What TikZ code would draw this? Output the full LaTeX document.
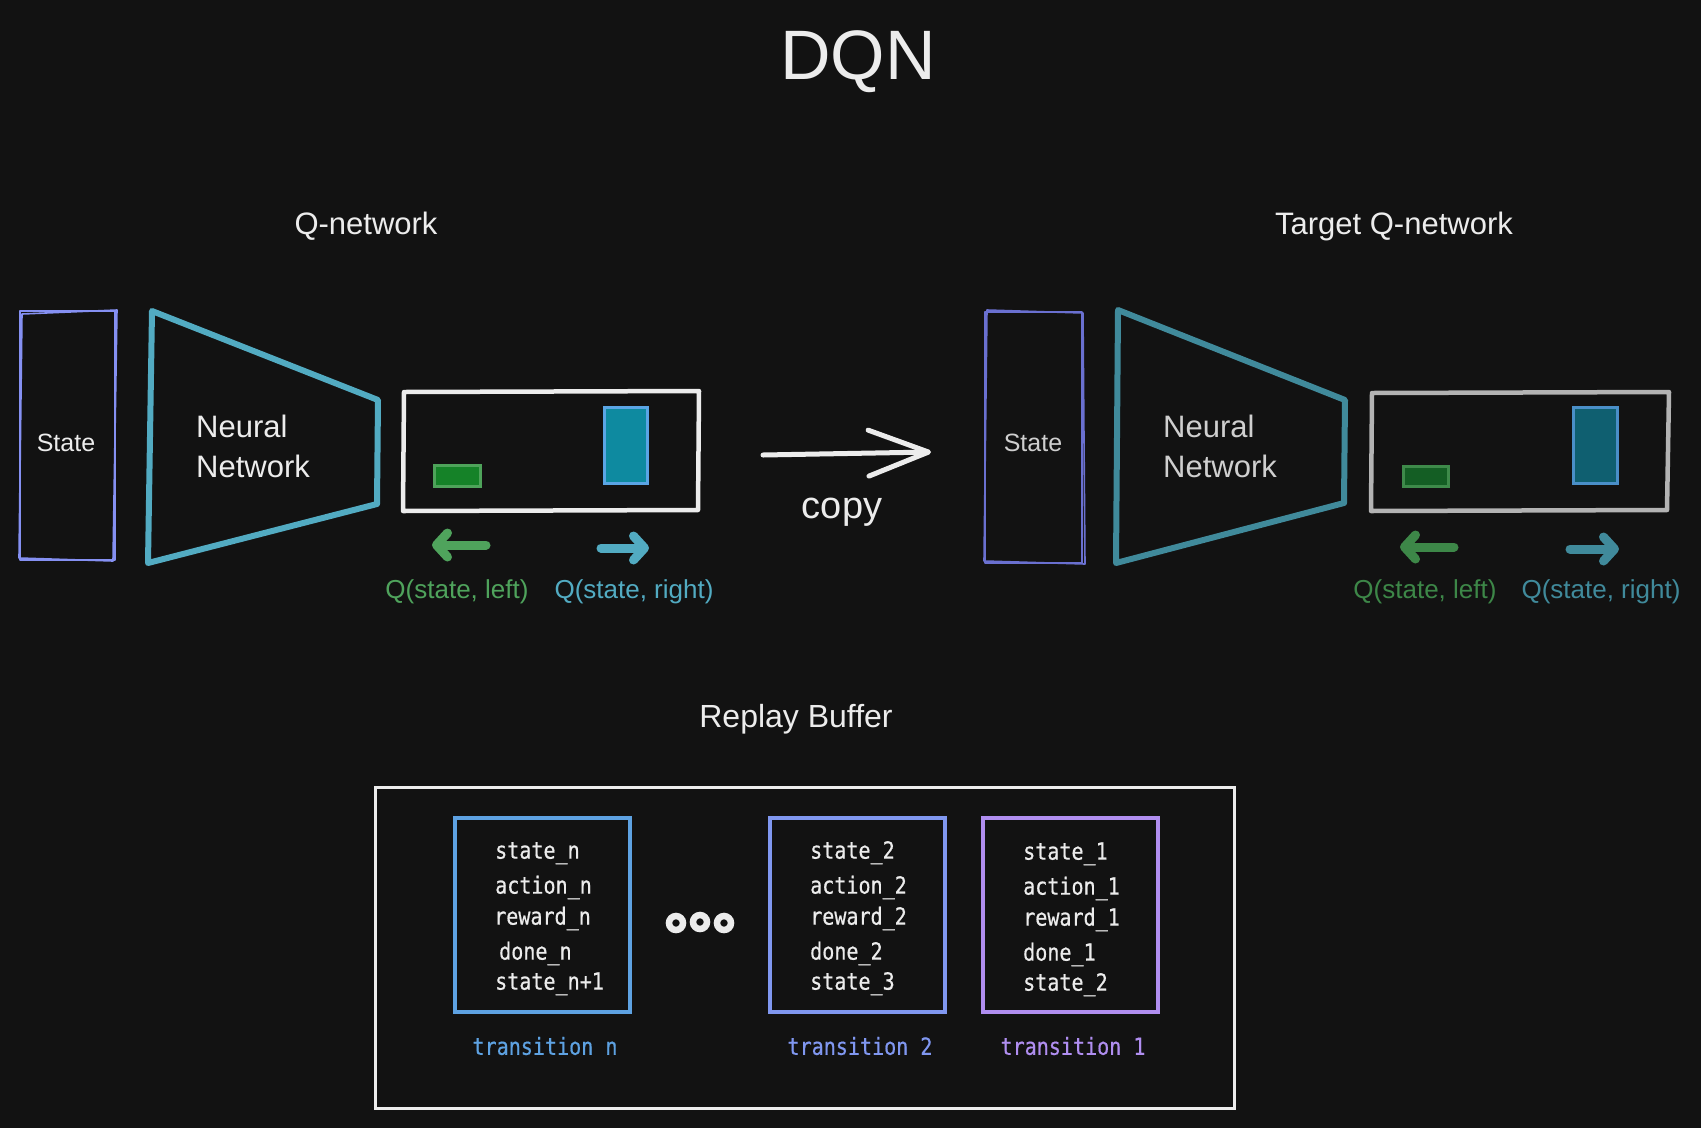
\documentclass[tikz,border=0pt]{standalone}
\usepackage{fontspec}
\setmainfont{Liberation Sans}
\newfontfamily\codefont[FakeStretch=0.85,FakeBold=0.6]{DejaVu Sans Mono}
\usetikzlibrary{arrows.meta}
\definecolor{bgc}{HTML}{121212}
\definecolor{txt}{HTML}{ECECEC}
\definecolor{dimtxt}{HTML}{CFCFCF}
\definecolor{stblue}{HTML}{8590F2}
\definecolor{stbluedim}{HTML}{6A70D0}
\definecolor{teal}{HTML}{52ABC2}
\definecolor{tealdim}{HTML}{408A9B}
\definecolor{garrow}{HTML}{4FA35C}
\definecolor{garrowdim}{HTML}{3D8748}
\definecolor{gfill}{HTML}{158228}
\definecolor{gfilldim}{HTML}{145E24}
\definecolor{gline}{HTML}{4EA35A}
\definecolor{glinedim}{HTML}{3E8A4A}
\definecolor{bfill}{HTML}{0E8AA0}
\definecolor{bfilldim}{HTML}{0F5F70}
\definecolor{bline}{HTML}{5AA5E5}
\definecolor{blinedim}{HTML}{4A8FC8}
\definecolor{grayrect}{HTML}{B3B3B3}
\definecolor{tn}{HTML}{5EA2E2}
\definecolor{ttwo}{HTML}{8097F0}
\definecolor{tone}{HTML}{B08EF0}
\begin{document}
\begin{tikzpicture}[x=1pt,y=-1pt,
  hand/.style={font=\fontsize{31}{36}\selectfont, text=txt, inner sep=0pt},
  small/.style={font=\fontsize{25}{30}\selectfont, inner sep=0pt},
  qlab/.style={font=\fontsize{26}{30}\selectfont, inner sep=0pt},
  code/.style={font=\codefont\fontsize{23.6}{28}\selectfont, text=txt, inner sep=0pt, anchor=mid west},
  codelab/.style={font=\codefont\fontsize{23.6}{28}\selectfont, inner sep=0pt},
  statebox/.style={line width=1.6pt, line join=round},
  nnet/.style={line width=6pt, line join=round, line cap=round},
  outbox/.style={line width=4.5pt, line join=round, line cap=round},
  qarrow/.style={line width=9pt, line cap=round, -{Straight Barb[length=11pt,width=24pt,round]}},
  tbox/.style={line width=3.2pt},
  dotc/.style={draw=txt, line width=6.5pt}
]
\fill[bgc] (0,0) rectangle (1701,1128);
\useasboundingbox (0,0) rectangle (1701,1128);

% title
\node[font=\fontsize{70}{80}\selectfont, text=txt, inner sep=0pt] (title) at (858,62) {DQN};

% ---------- Q-network ----------
\node[hand] (qnlab) at (366,226) {Q-network};
\draw[statebox, stblue] (20,311) rectangle (115,560);
\draw[statebox, stblue] (22,314) -- (117,310) -- (113,561) -- (19,558) -- cycle;
\node[small, text=txt] (st1) at (66,443) {State};
\draw[nnet, teal] (152,311) -- (378,400) -- (377,504) -- (148,563) -- cycle;
\node[hand, anchor=base west] (nn1a) at (196,437) {Neural};
\node[hand, anchor=base west] (nn1b) at (196,477) {Network};
\draw[outbox, txt] (404,392) -- (699,391) -- (698,510) -- (403,511) -- cycle;
\draw[line width=3pt, draw=gline, fill=gfill] (434,465) rectangle (480,486);
\draw[line width=3pt, draw=bline, fill=bfill] (604,407) rectangle (647,483);
\coordinate (la1s) at (486,545); \coordinate (la1e) at (432,545);
\coordinate (ra1s) at (601,548); \coordinate (ra1e) at (649,548);
\draw[qarrow, garrow] (la1s) -- (la1e);
\draw[qarrow, teal] (ra1s) -- (ra1e);
\node[qlab, text=garrow] (ql1) at (457,592) {Q(state, left)};
\node[qlab, text=teal] (qr1) at (634,592) {Q(state, right)};

% ---------- copy ----------
\coordinate (cps) at (763,455);
\coordinate (cpe) at (931,452);
\draw[txt, line width=5pt, line cap=round, -{Straight Barb[length=60pt,width=46pt,round]}] (cps) -- (cpe);
\node[font=\fontsize{38}{44}\selectfont, text=txt, inner sep=0pt] (copy) at (842,512) {copy};

% ---------- Target Q-network ----------
\node[hand] (tqlab) at (1394,226) {Target Q-network};
\draw[statebox, stbluedim] (985,312) rectangle (1082,563);
\draw[statebox, stbluedim] (987,310) -- (1083,313) -- (1085,564) -- (984,561) -- cycle;
\node[small, text=dimtxt] (st2) at (1033,443) {State};
\draw[nnet, tealdim] (1118,310) -- (1345,400) -- (1344,503) -- (1116,563) -- cycle;
\node[hand, text=dimtxt, anchor=base west] (nn2a) at (1163,437) {Neural};
\node[hand, text=dimtxt, anchor=base west] (nn2b) at (1163,477) {Network};
\draw[outbox, grayrect] (1372,393) -- (1669,392) -- (1667,510) -- (1371,511) -- cycle;
\draw[line width=3pt, draw=glinedim, fill=gfilldim] (1403,466) rectangle (1448,486);
\draw[line width=3pt, draw=blinedim, fill=bfilldim] (1573,407) rectangle (1617,483);
\coordinate (la2s) at (1454,547); \coordinate (la2e) at (1400,547);
\coordinate (ra2s) at (1570,549); \coordinate (ra2e) at (1619,549);
\draw[qarrow, garrowdim] (la2s) -- (la2e);
\draw[qarrow, tealdim] (ra2s) -- (ra2e);
\node[qlab, text=garrowdim] (ql2) at (1425,592) {Q(state, left)};
\node[qlab, text=tealdim] (qr2) at (1601,592) {Q(state, right)};

% ---------- Replay buffer ----------
\node[font=\fontsize{32}{38}\selectfont, text=txt, inner sep=0pt] (rblab) at (796,719) {Replay Buffer};
\draw[txt, line width=3pt] (375,787) rectangle (1234,1108);

\draw[tbox, tn] (455,818) rectangle (630,1012);
\draw[tbox, ttwo] (770,818) rectangle (945,1012);
\draw[tbox, tone] (983,818) rectangle (1158,1012);

\node[code] (an1) at (495,856) {state\_n};
\node[code] (an2) at (495,891) {action\_n};
\node[code] (an3) at (494,922) {reward\_n};
\node[code] (an4) at (499,957) {done\_n};
\node[code] (an5) at (495,987) {state\_n+1};

\node[code] (bn1) at (810,856) {state\_2};
\node[code] (bn2) at (810,891) {action\_2};
\node[code] (bn3) at (810,922) {reward\_2};
\node[code] (bn4) at (810,957) {done\_2};
\node[code] (bn5) at (810,987) {state\_3};

\node[code] (cn1) at (1023,857) {state\_1};
\node[code] (cn2) at (1023,892) {action\_1};
\node[code] (cn3) at (1023,923) {reward\_1};
\node[code] (cn4) at (1023,958) {done\_1};
\node[code] (cn5) at (1023,988) {state\_2};

\node[codelab, text=tn] (tln) at (545,1046) {transition n};
\node[codelab, text=ttwo] (tl2) at (860,1046) {transition 2};
\node[codelab, text=tone] (tl1) at (1073,1046) {transition 1};

\draw[dotc] (676,923) circle (7);
\draw[dotc] (700,922) circle (7);
\draw[dotc] (724,923) circle (7);
\end{tikzpicture}
\end{document}
